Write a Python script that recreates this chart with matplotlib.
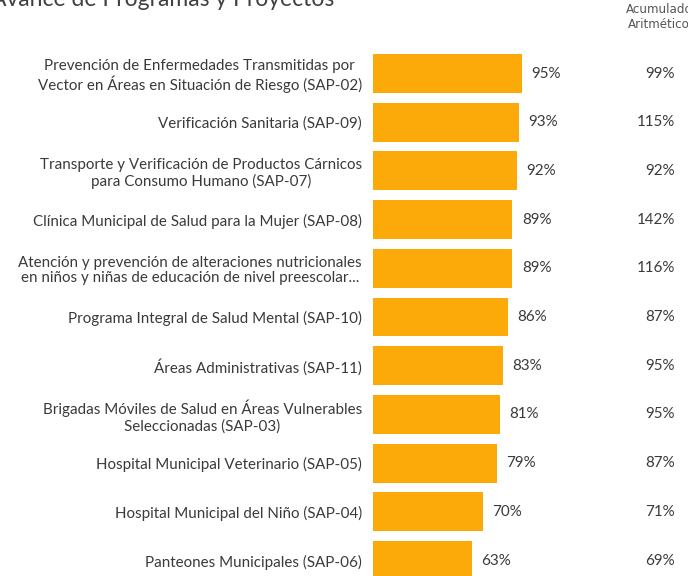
import matplotlib
matplotlib.use("Agg")
import matplotlib.pyplot as plt

# Data
programas = [
    "Prevención de Enfermedades Transmitidas por\nVector en Áreas en Situación de Riesgo (SAP-02)",
    "Verificación Sanitaria (SAP-09)",
    "Transporte y Verificación de Productos Cárnicos\npara Consumo Humano (SAP-07)",
    "Clínica Municipal de Salud para la Mujer (SAP-08)",
    "Atención y prevención de alteraciones nutricionales\nen niños y niñas de educación de nivel preescolar...",
    "Programa Integral de Salud Mental (SAP-10)",
    "Áreas Administrativas (SAP-11)",
    "Brigadas Móviles de Salud en Áreas Vulnerables\nSeleccionadas (SAP-03)",
    "Hospital Municipal Veterinario (SAP-05)",
    "Hospital Municipal del Niño (SAP-04)",
    "Panteones Municipales (SAP-06)",
]
avance = [95, 93, 92, 89, 89, 86, 83, 81, 79, 70, 63]
acumulado = [99, 115, 92, 142, 116, 87, 95, 95, 87, 71, 69]

BAR_COLOR = "#FBAA0A"
TEXT_COLOR = "#3a3a3a"
FONT = ["Lato", "DejaVu Sans"]
FS = 10.9

W, H = 688, 576
fig = plt.figure(figsize=(W / 100, H / 100), dpi=100)

# axes spans from the bar base to the right edge, full height
x0 = 373
ax = fig.add_axes([x0 / W, 0, 1 - x0 / W, 1])
px_per_pct = 1.565
ax.set_xlim(0, (W - x0) / px_per_pct)
first, step = 73.5, 48.7
ax.set_ylim((H - first) / step, -first / step)

pos = list(range(len(programas)))
ax.barh(pos, avance, height=0.8, color=BAR_COLOR)

ax.set_yticks(pos, programas)
for lab in ax.get_yticklabels():
    lab.set_multialignment("center")
    lab.set_fontfamily(FONT)
    lab.set_fontsize(FS)
    lab.set_color(TEXT_COLOR)
    lab.set_linespacing(1.15)
ax.tick_params(axis="y", length=0, pad=8)
ax.set_xticks([])
for s in ax.spines.values():
    s.set_visible(False)

col_x = (675 - x0) / px_per_pct
for i, (v, a) in enumerate(zip(avance, acumulado)):
    ax.annotate(f"{v}%", (v, i), xytext=(7, 0), textcoords="offset points",
                ha="left", va="center", fontsize=FS, family=FONT,
                color=TEXT_COLOR)
    ax.text(col_x, i, f"{a}%", ha="right", va="center", fontsize=FS,
            family=FONT, color=TEXT_COLOR)

fig.text(-9 / W, 1 - 6 / H, "Avance de Programas y Proyectos", ha="left",
         va="baseline", fontsize=16.5, family=FONT, color="#404040")
fig.text(659 / W, 1 - 17 / H, "Acumulado\nAritmético", ha="center",
         va="center", fontsize=8.6, family=["DejaVu Sans"], color="#555555",
         linespacing=1.25)

fig.savefig("out.png", dpi=100)
